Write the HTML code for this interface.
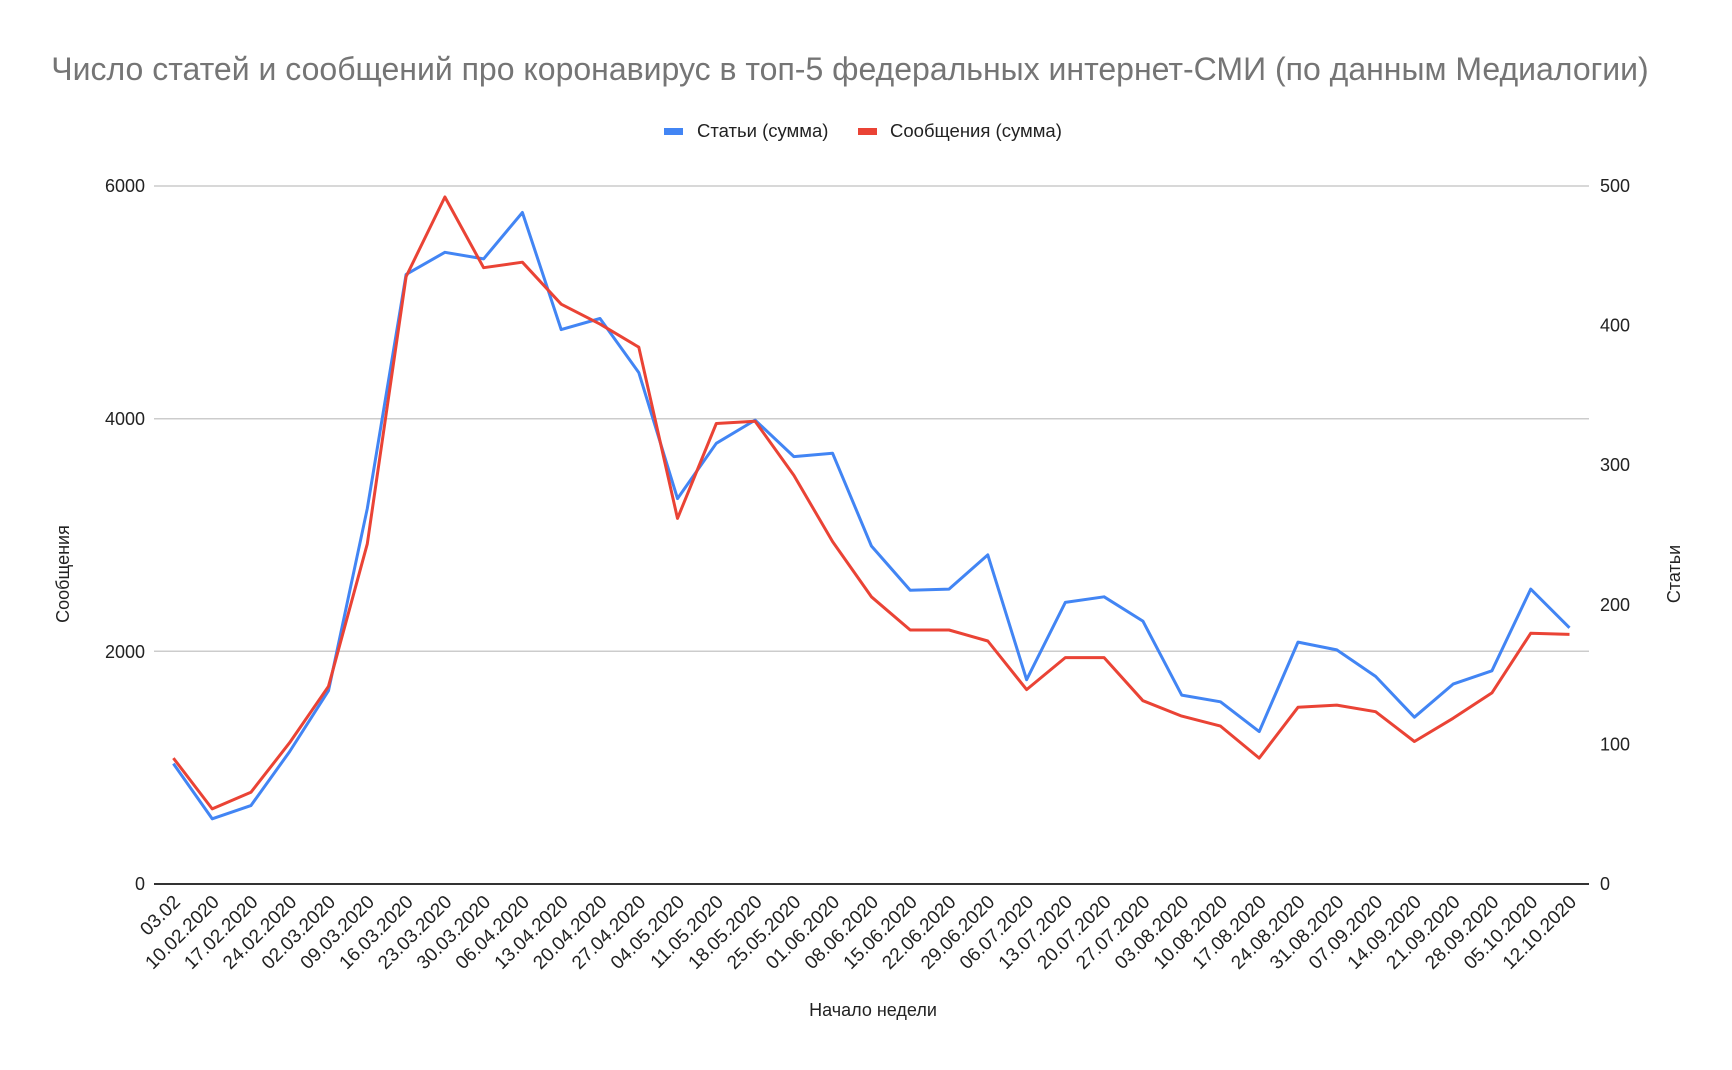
<!DOCTYPE html>
<html><head><meta charset="utf-8"><style>
html,body{margin:0;padding:0;background:#fff;}
svg{display:block;font-family:"Liberation Sans",Arial,sans-serif;}
</style></head><body>
<svg id="c" width="1732" height="1070" viewBox="0 0 1732 1070" xmlns="http://www.w3.org/2000/svg">
<rect width="1732" height="1070" fill="#fff"/>
<text x="850" y="80" text-anchor="middle" font-size="32" fill="#757575">Число статей и сообщений про коронавирус в топ-5 федеральных интернет-СМИ (по данным Медиалогии)</text>
<rect x="664" y="128" width="19" height="7" fill="#4285f4"/>
<text x="697" y="137" font-size="18.5" fill="#222">Статьи (сумма)</text>
<rect x="858" y="128" width="19" height="7" fill="#ea4335"/>
<text x="890" y="137" font-size="18.5" fill="#222">Сообщения (сумма)</text>
<g stroke="#ccc" stroke-width="1.5">
<line x1="154" y1="186" x2="1589" y2="186"/>
<line x1="154" y1="418.7" x2="1589" y2="418.7"/>
<line x1="154" y1="651.3" x2="1589" y2="651.3"/>
</g>
<g font-size="18" fill="#222" text-anchor="end">
<text x="145" y="192">6000</text>
<text x="145" y="425">4000</text>
<text x="145" y="658">2000</text>
<text x="145" y="890">0</text>
</g>
<g id="rl" font-size="18" fill="#222"></g>
<g id="xl" font-size="19" fill="#222"></g>
<text transform="translate(69,574) rotate(-90)" text-anchor="middle" font-size="18" fill="#222">Сообщения</text>
<text transform="translate(1680,574) rotate(-90)" text-anchor="middle" font-size="18" fill="#222">Статьи</text>
<text x="873" y="1016" text-anchor="middle" font-size="18" fill="#222">Начало недели</text>
<polyline id="pb" fill="none" stroke="#4285f4" stroke-width="3" stroke-linejoin="round"/>
<polyline id="pr" fill="none" stroke="#ea4335" stroke-width="3" stroke-linejoin="round"/>
<line x1="154" y1="884" x2="1589" y2="884" stroke="#333" stroke-width="2"/>
</svg>
<script>
var NS="http://www.w3.org/2000/svg";
var labels=["03.02","10.02.2020","17.02.2020","24.02.2020","02.03.2020","09.03.2020","16.03.2020","23.03.2020","30.03.2020","06.04.2020","13.04.2020","20.04.2020","27.04.2020","04.05.2020","11.05.2020","18.05.2020","25.05.2020","01.06.2020","08.06.2020","15.06.2020","22.06.2020","29.06.2020","06.07.2020","13.07.2020","20.07.2020","27.07.2020","03.08.2020","10.08.2020","17.08.2020","24.08.2020","31.08.2020","07.09.2020","14.09.2020","21.09.2020","28.09.2020","05.10.2020","12.10.2020"];
var red=[686,732,717,672,621,492,250,178,242,237,275,293,314,469,383,381,430,490,540,570,570,580,624,595,595,634,648,657,686,640,638,644,671,650,627,573,574];
var blue=[691,741,729,680,625,460,248,228,234,192,298,288,337,451,401,380,413,410,494,534,533,502,615,545,540,562,629,635,662,581,588,612,649,619,607,533,568];
function X(i){return 154+38.78*(i+0.5);}
function Y(d){return 186+(d-168)*(698/632);}
var pr=[],pb=[];
for(var i=0;i<37;i++){pr.push(X(i).toFixed(1)+","+Y(red[i]).toFixed(1));pb.push(X(i).toFixed(1)+","+Y(blue[i]).toFixed(1));}
document.getElementById("pr").setAttribute("points",pr.join(" "));
document.getElementById("pb").setAttribute("points",pb.join(" "));
var xl=document.getElementById("xl");
for(var i=0;i<37;i++){var t=document.createElementNS(NS,"text");var x=X(i)+8,y=903;
t.setAttribute("transform","translate("+x+","+y+") rotate(-45)");t.setAttribute("text-anchor","end");t.textContent=labels[i];xl.appendChild(t);}
var rl=document.getElementById("rl");
for(var k=0;k<=5;k++){var t=document.createElementNS(NS,"text");t.setAttribute("x",1600);t.setAttribute("y",(884-k*139.6+6).toFixed(1));t.textContent=String(k*100);rl.appendChild(t);}
</script>
</body></html>
